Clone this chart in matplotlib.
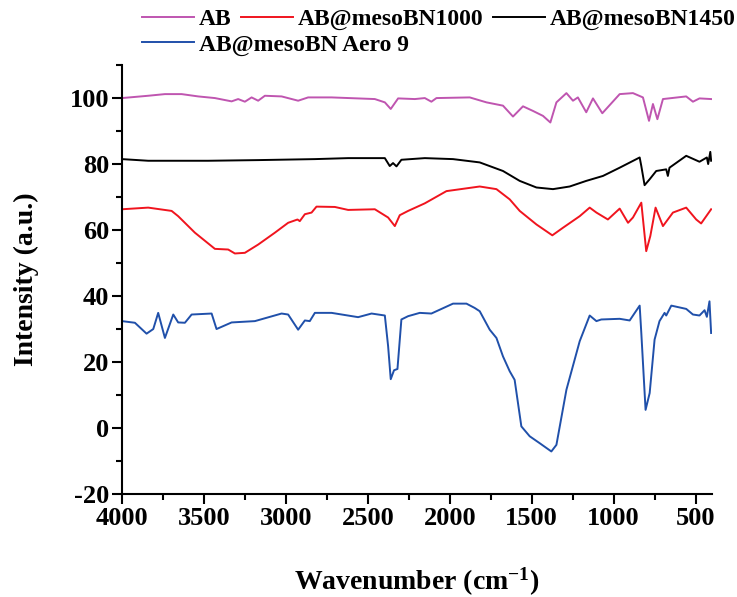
import numpy as np
import matplotlib
matplotlib.use("Agg")
import matplotlib.pyplot as plt

plt.rcParams["font.family"] = ["Liberation Serif", "DejaVu Serif"]
plt.rcParams["font.weight"] = "bold"
plt.rcParams["axes.unicode_minus"] = False
plt.rcParams["mathtext.fontset"] = "custom"
plt.rcParams["mathtext.rm"] = "Liberation Serif:bold"
plt.rcParams["mathtext.bf"] = "Liberation Serif:bold"
plt.rcParams["mathtext.default"] = "bf"

# espectros (numero de onda, intensidad)
wn_ab = [4000, 3840, 3738, 3636, 3535, 3433, 3331, 3291, 3250, 3209, 3169, 3128, 3026, 2925,
         2864, 2721, 2457, 2396, 2360, 2315, 2213, 2152, 2112, 2081, 1878, 1776, 1675, 1614,
         1553, 1492, 1431, 1386, 1349, 1288, 1248, 1218, 1167, 1126, 1069, 963, 882, 821,
         784, 760, 733, 699, 557, 516, 476, 405]
int_ab = [100.0, 100.7, 101.2, 101.2, 100.5, 100.0, 99.0, 99.7, 98.9, 100.2, 99.2, 100.7, 100.5, 99.2,
          100.2, 100.2, 99.7, 98.7, 96.7, 99.9, 99.7, 100.0, 98.9, 100.0, 100.2, 98.7, 97.7, 94.4,
          97.5, 96.1, 94.6, 92.6, 98.7, 101.5, 99.2, 100.2, 95.7, 99.9, 95.4, 101.2, 101.5, 100.2,
          93.1, 98.2, 93.6, 99.7, 100.5, 98.9, 99.9, 99.7]

wn_1000 = [4000, 3840, 3697, 3657, 3555, 3433, 3352, 3311, 3250, 3169, 3067, 2986, 2929, 2915,
           2884, 2843, 2813, 2701, 2620, 2457, 2376, 2335, 2305, 2254, 2152, 2020, 1817, 1715,
           1634, 1573, 1471, 1374, 1309, 1207, 1146, 1105, 1035, 963, 912, 882, 831, 801, 776,
           744, 699, 638, 557, 496, 466, 405]
int_1000 = [66.3, 66.8, 65.8, 64.2, 59.2, 54.3, 54.1, 52.9, 53.1, 55.6, 59.2, 62.2, 63.2, 62.7,
            64.8, 65.3, 67.1, 67.0, 66.1, 66.3, 63.8, 61.2, 64.5, 65.8, 68.1, 71.8, 73.2, 72.4,
            69.3, 65.8, 61.7, 58.4, 60.7, 64.2, 66.8, 65.3, 63.2, 66.5, 62.2, 63.8, 68.3, 53.6, 58.2,
            66.8, 61.2, 65.3, 66.8, 63.2, 62.0, 66.3]

wn_1450 = [4000, 3840, 3555, 3474, 3169, 2823, 2620, 2396, 2366, 2346, 2325, 2295, 2152, 1980,
           1817, 1675, 1573, 1471, 1370, 1268, 1167, 1065, 963, 841, 831, 811, 780, 740, 679,
           669, 659, 557, 476, 431, 423, 410, 405]
int_1450 = [81.5, 81.0, 81.0, 81.0, 81.2, 81.5, 81.8, 81.8, 79.4, 80.3, 79.3, 81.3, 81.8, 81.5,
            80.5, 77.9, 74.9, 72.9, 72.4, 73.2, 74.9, 76.4, 78.9, 82.0, 79.4, 73.6, 75.4, 77.9, 78.4,
            76.4, 78.9, 82.5, 80.7, 82.0, 80.0, 83.7, 81.0]

wn_aero = [4000, 3921, 3850, 3809, 3779, 3738, 3687, 3657, 3616, 3575, 3453, 3423, 3331, 3189,
           3026, 2986, 2925, 2884, 2854, 2823, 2721, 2559, 2477, 2396, 2376, 2360, 2340, 2319,
           2295, 2254, 2183, 2112, 1980, 1898, 1848, 1817, 1756, 1715, 1675, 1634, 1604, 1563,
           1512, 1451, 1380, 1349, 1288, 1207, 1146, 1105, 1075, 963, 902, 841, 831, 805, 780,
           750, 720, 689, 679, 648, 557, 516, 476, 445, 431, 415, 405]
int_aero = [32.4, 31.9, 28.6, 30.0, 34.9, 27.3, 34.4, 32.0, 31.9, 34.4, 34.7, 30.0, 32.0, 32.4,
            34.7, 34.4, 29.8, 32.6, 32.4, 34.9, 34.9, 33.6, 34.7, 34.1, 24.8, 14.8, 17.5, 17.9,
            32.9, 33.9, 34.9, 34.7, 37.7, 37.7, 36.4, 35.4, 29.8, 27.3, 21.7, 17.2, 14.6, 0.5,
            -2.5, -4.6, -7.1, -5.1, 11.6, 26.3, 34.1, 32.4, 32.9, 33.1, 32.6, 37.1, 28.8, 5.5, 10.6,
            26.8, 32.4, 34.9, 34.1, 37.1, 36.1, 34.4, 34.1, 35.7, 33.7, 38.4, 28.8]

series = [
    ("AB", wn_ab, int_ab, "#bf55b0"),
    ("AB@mesoBN1000", wn_1000, int_1000, "#f0141e"),
    ("AB@mesoBN1450", wn_1450, int_1450, "#000000"),
    ("AB@mesoBN Aero 9", wn_aero, int_aero, "#2050aa"),
]

fig = plt.figure(figsize=(7.37, 5.97), dpi=100)
ax = fig.add_axes([0.1655, 0.1725, 0.8005, 0.7185])

lineas = []
for nombre, x, y, color in series:
    l, = ax.plot(x, y, color=color, lw=1.4, label=nombre)
    lineas.append(l)

ax.set_xlim(4000, 400)
ax.set_ylim(-20, 110)
ax.set_xticks(np.arange(4000, 400, -500))
ax.set_xticks(np.arange(3750, 400, -500), minor=True)
ax.set_yticks(np.arange(-20, 101, 20))
ax.set_yticks(np.arange(-10, 111, 20), minor=True)

for lado in ["top", "right"]:
    ax.spines[lado].set_visible(False)
for lado in ["left", "bottom"]:
    ax.spines[lado].set_linewidth(1.5)

ax.tick_params(which="major", direction="out", length=7, width=1.5, labelsize=19, pad=2)
ax.tick_params(which="minor", direction="out", length=4, width=1.5)
for t in ax.get_xticklabels() + ax.get_yticklabels():
    t.set_fontweight("bold")

ax.set_xlabel(r"Wavenumber (cm$^{-1}$)", fontsize=20, fontweight="bold", labelpad=26)
ax.set_ylabel("Intensity (a.u.)", fontsize=20, fontweight="bold", labelpad=22)

# leyenda en dos filas como en el original
kw = dict(frameon=False, handlelength=2.2, handletextpad=0.2, columnspacing=0.4,
          borderpad=0, borderaxespad=0, prop={"weight": "bold", "size": 17})
fig.legend(lineas[:3], [s[0] for s in series[:3]], ncol=3, loc="center left",
           bbox_to_anchor=(0.193, 0.968), **kw)
fig.legend(lineas[3:], [series[3][0]], ncol=1, loc="center left",
           bbox_to_anchor=(0.193, 0.925), **kw)

plt.savefig("out.png", dpi=100)
